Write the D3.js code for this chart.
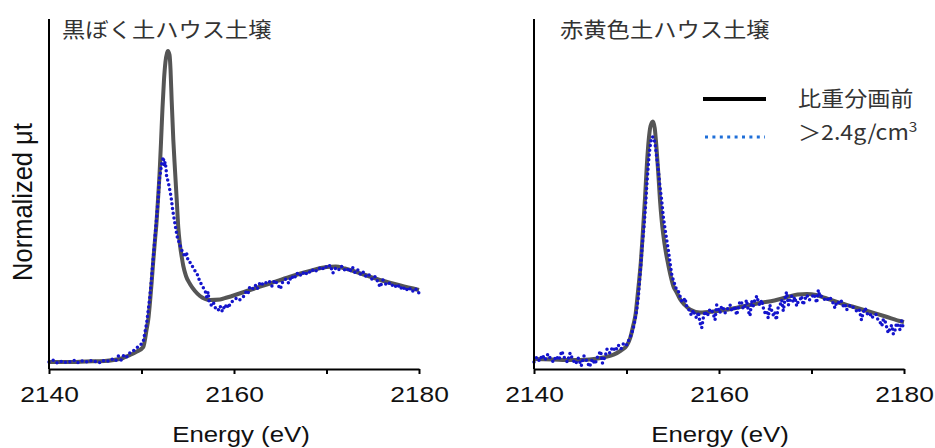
<!DOCTYPE html>
<html><head><meta charset="utf-8">
<script src="https://cdn.jsdelivr.net/npm/d3@7"></script>
<style>body{margin:0;background:#fff;} svg{display:block;}</style>
</head><body>
<svg id="c" width="935" height="448"></svg>
<script>
// ---------- data ----------
const xTicks = [2140, 2150, 2160, 2170, 2180];
const xTickLabels = ["2140", "", "2160", "", "2180"];
const panelTitles = ["黒ぼく土ハウス土壌", "赤黄色土ハウス土壌"];
const seriesNames = ["比重分画前", "＞2.4g/cm", "3"];
const xLabel = "Energy (eV)";
const yLabel = "Normalized μt";

// left panel, before fractionation (solid gray)
const leftBefore = [[2140,0.00],[2142,0.00],[2144,0.005],[2146,0.01],[2147,0.02],[2148,0.04],[2148.5,0.06],[2149,0.08],[2149.5,0.105],[2150.19,0.15],[2150.56,0.33],[2150.74,0.43],[2150.92,0.60],[2151.10,0.80],[2151.28,1.02],[2151.46,1.22],[2151.62,1.39],[2151.78,1.62],[2151.95,1.88],[2152.11,2.20],[2152.27,2.54],[2152.43,2.82],[2152.59,3.00],[2152.76,3.09],[2152.86,3.11],[2153.03,3.07],[2153.14,2.92],[2153.26,2.62],[2153.44,2.22],[2153.62,1.92],[2153.81,1.62],[2153.98,1.34],[2154.16,1.17],[2154.35,1.05],[2154.52,0.96],[2154.81,0.86],[2155.24,0.78],[2155.78,0.71],[2156.32,0.66],[2157.41,0.62],[2158.49,0.625],[2159.24,0.645],[2160.11,0.67],[2161.73,0.72],[2163.89,0.785],[2166,0.85],[2168,0.905],[2170,0.95],[2171,0.955],[2172,0.935],[2174,0.875],[2176,0.815],[2178,0.765],[2180,0.72]];

// left panel, >2.4 g/cm3 fraction (blue dotted)
const leftDense = [[2140.0,0.00],[2140.4,0.02],[2140.8,-0.01],[2141.2,0.01],[2141.6,-0.01],[2142.0,0.01],[2142.4,0.00],[2142.8,0.02],[2143.2,-0.01],[2143.6,0.01],[2144.0,0.00],[2144.4,0.02],[2144.8,0.00],[2145.2,0.01],[2145.6,-0.01],[2146.0,0.02],[2146.4,0.01],[2146.8,0.03],[2147.2,0.01],[2147.5,0.06],[2147.8,0.02],[2148.1,0.07],[2148.4,0.05],[2148.7,0.09],[2149.0,0.10],[2149.3,0.13],[2149.6,0.15],[2149.9,0.17],[2150.2,0.21],[2150.56,0.39],[2150.9,0.65],[2151.1,0.85],[2151.28,1.05],[2151.46,1.25],[2151.64,1.45],[2151.82,1.65],[2151.92,1.82],[2152.08,1.92],[2152.2,1.99],[2152.36,2.05],[2152.45,1.96],[2152.55,2.00],[2152.65,1.94],[2152.72,1.85],[2152.86,1.81],[2153.0,1.75],[2153.2,1.65],[2153.37,1.52],[2153.55,1.42],[2153.73,1.32],[2153.87,1.25],[2154.09,1.19],[2154.34,1.12],[2154.55,1.08],[2154.7,1.05],[2154.85,1.10],[2155.0,1.03],[2155.17,1.02],[2155.3,0.98],[2155.43,0.97],[2155.6,0.94],[2155.8,0.91],[2155.97,0.89],[2156.1,0.86],[2156.25,0.82],[2156.5,0.77],[2156.7,0.74],[2156.86,0.72],[2157.05,0.65],[2157.2,0.70],[2157.3,0.61],[2157.4,0.59],[2157.6,0.56],[2157.8,0.59],[2157.95,0.55],[2158.1,0.52],[2158.3,0.52],[2158.5,0.56],[2158.7,0.51],[2158.85,0.55],[2159.0,0.53],[2159.2,0.58],[2159.4,0.54],[2159.6,0.59],[2159.75,0.60],[2160.0,0.62],[2160.3,0.64],[2160.6,0.62],[2161.0,0.65],[2161.3,0.70],[2161.5,0.68],[2161.7,0.75],[2162.0,0.73],[2162.3,0.77],[2162.5,0.73],[2162.8,0.79],[2163.0,0.77],[2163.2,0.80],[2163.5,0.79],[2163.8,0.81],[2164.1,0.76],[2164.4,0.82],[2164.7,0.78],[2165.0,0.73],[2165.3,0.81],[2165.6,0.83],[2165.9,0.79],[2166.2,0.86],[2166.5,0.83],[2166.8,0.89],[2167.1,0.86],[2167.4,0.90],[2167.7,0.87],[2168.0,0.91],[2168.3,0.89],[2168.6,0.93],[2168.9,0.91],[2169.2,0.94],[2169.5,0.92],[2169.8,0.96],[2170.1,0.94],[2170.4,0.97],[2170.7,0.89],[2171.0,0.94],[2171.3,0.92],[2171.6,0.96],[2171.9,0.92],[2172.2,0.94],[2172.5,0.90],[2172.8,0.95],[2173.1,0.89],[2173.4,0.92],[2173.7,0.87],[2174.0,0.90],[2174.3,0.85],[2174.6,0.87],[2174.9,0.83],[2175.2,0.86],[2175.5,0.81],[2175.8,0.75],[2176.1,0.82],[2176.4,0.78],[2176.7,0.80],[2177.0,0.76],[2177.3,0.78],[2177.6,0.74],[2177.9,0.77],[2178.2,0.72],[2178.5,0.75],[2178.8,0.71],[2179.1,0.74],[2179.4,0.70],[2179.7,0.73],[2180.0,0.69]];

// right panel, before fractionation (solid gray)
const rightBefore = [[2140,0.03],[2142,0.025],[2144,0.02],[2146,0.025],[2147.5,0.045],[2148.6,0.073],[2149.4,0.115],[2150.0,0.16],[2150.4,0.24],[2150.74,0.37],[2151.0,0.49],[2151.15,0.62],[2151.35,0.80],[2151.55,1.00],[2151.75,1.27],[2152.0,1.64],[2152.2,1.97],[2152.4,2.22],[2152.6,2.36],[2152.85,2.405],[2153.05,2.34],[2153.26,2.12],[2153.45,1.87],[2153.62,1.62],[2153.8,1.42],[2153.98,1.27],[2154.25,1.10],[2154.52,0.97],[2154.8,0.85],[2155.06,0.76],[2155.4,0.70],[2155.78,0.63],[2156.3,0.57],[2156.86,0.525],[2157.95,0.495],[2159.4,0.505],[2161.0,0.525],[2162.5,0.555],[2164.4,0.59],[2166.0,0.615],[2167.2,0.645],[2168.5,0.675],[2169.5,0.68],[2170.5,0.67],[2171.5,0.64],[2172.6,0.605],[2174.4,0.555],[2176.2,0.505],[2178.0,0.455],[2179.75,0.405],[2180.0,0.40]];

// right panel, >2.4 g/cm3 fraction (blue dotted)
const rightDense = [[2140.0,0.00],[2140.3,0.05],[2140.6,0.01],[2140.9,0.07],[2141.2,0.02],[2141.5,0.08],[2141.8,0.03],[2142.1,0.00],[2142.4,0.06],[2142.7,0.02],[2143.0,0.11],[2143.3,0.04],[2143.6,0.00],[2143.9,0.09],[2144.2,0.02],[2144.5,-0.02],[2144.8,0.04],[2145.1,-0.04],[2145.4,0.06],[2145.7,0.01],[2146.0,-0.05],[2146.3,0.03],[2146.6,-0.02],[2146.9,0.06],[2147.2,0.11],[2147.4,-0.01],[2147.7,0.06],[2147.9,0.13],[2148.2,0.09],[2148.5,0.15],[2148.8,0.11],[2149.1,0.17],[2149.4,0.13],[2149.7,0.19],[2150.0,0.17],[2150.3,0.23],[2150.55,0.28],[2150.74,0.34],[2150.92,0.42],[2151.1,0.52],[2151.28,0.65],[2151.39,0.79],[2151.53,0.95],[2151.64,1.09],[2151.75,1.22],[2151.89,1.35],[2152.0,1.49],[2152.1,1.62],[2152.18,1.75],[2152.29,1.89],[2152.4,2.02],[2152.54,2.15],[2152.72,2.25],[2152.9,2.25],[2153.08,2.19],[2153.26,2.05],[2153.44,1.92],[2153.62,1.75],[2153.8,1.62],[2153.98,1.45],[2154.23,1.29],[2154.52,1.12],[2154.77,0.95],[2154.9,0.87],[2155.06,0.82],[2155.24,0.77],[2155.42,0.72],[2155.6,0.71],[2155.78,0.66],[2155.96,0.61],[2156.14,0.60],[2156.32,0.64],[2156.5,0.56],[2156.68,0.54],[2156.86,0.49],[2157.05,0.47],[2157.22,0.52],[2157.4,0.46],[2157.6,0.44],[2157.78,0.50],[2157.95,0.39],[2158.13,0.34],[2158.3,0.44],[2158.5,0.51],[2158.68,0.46],[2158.85,0.48],[2159.02,0.53],[2159.2,0.52],[2159.38,0.48],[2159.57,0.42],[2159.75,0.57],[2159.92,0.53],[2160.1,0.49],[2160.28,0.56],[2160.47,0.54],[2160.65,0.49],[2160.83,0.51],[2161.0,0.55],[2161.2,0.57],[2161.38,0.51],[2161.55,0.52],[2161.72,0.56],[2161.9,0.47],[2162.1,0.54],[2162.27,0.61],[2162.45,0.59],[2162.62,0.53],[2162.8,0.56],[2162.98,0.62],[2163.17,0.51],[2163.35,0.46],[2163.53,0.61],[2163.7,0.56],[2163.9,0.63],[2164.1,0.66],[2164.27,0.59],[2164.43,0.57],[2164.62,0.62],[2164.8,0.54],[2164.98,0.49],[2165.15,0.51],[2165.32,0.44],[2165.5,0.57],[2165.68,0.52],[2165.87,0.47],[2166.03,0.50],[2166.2,0.42],[2166.4,0.55],[2166.6,0.57],[2166.78,0.62],[2166.95,0.51],[2167.15,0.64],[2167.3,0.70],[2167.5,0.57],[2167.68,0.62],[2167.85,0.66],[2168.02,0.60],[2168.2,0.65],[2168.4,0.56],[2168.58,0.61],[2168.75,0.62],[2168.92,0.66],[2169.1,0.57],[2169.3,0.63],[2169.5,0.67],[2169.75,0.62],[2170.0,0.64],[2170.28,0.68],[2170.56,0.59],[2170.74,0.72],[2170.92,0.65],[2171.1,0.66],[2171.37,0.63],[2171.64,0.61],[2171.92,0.65],[2172.2,0.62],[2172.37,0.58],[2172.54,0.54],[2172.72,0.60],[2172.9,0.59],[2173.17,0.62],[2173.44,0.56],[2173.62,0.58],[2173.8,0.52],[2174.08,0.56],[2174.35,0.57],[2174.62,0.53],[2174.9,0.51],[2175.15,0.53],[2175.4,0.42],[2175.6,0.50],[2175.8,0.54],[2176.05,0.48],[2176.3,0.49],[2176.5,0.44],[2176.7,0.46],[2176.95,0.48],[2177.2,0.42],[2177.4,0.40],[2177.6,0.36],[2177.78,0.43],[2177.95,0.41],[2178.12,0.35],[2178.3,0.29],[2178.5,0.34],[2178.67,0.37],[2178.85,0.28],[2179.0,0.31],[2179.2,0.39],[2179.4,0.36],[2179.57,0.32],[2179.75,0.41],[2179.9,0.35]];

// ---------- drawing ----------
const LATIN = "'Liberation Sans', Arial, sans-serif";
const CJK = "'Noto Sans CJK JP', 'Noto Sans', sans-serif";
const GRAY = "#555555", BLUE = "#1414cc", LEGBLUE = "#1f6fd8";

const svg = d3.select("#c");
const y = d3.scaleLinear().domain([-0.07, 3.43]).range([369, 19]);

const panels = [
  {x0: 49, x1: 419, title: panelTitles[0], before: leftBefore, dense: leftDense, titleX: 62, labelX: 241},
  {x0: 534, x1: 904, title: panelTitles[1], before: rightBefore, dense: rightDense, titleX: 560, labelX: 720}
];

panels.forEach((p, pi) => {
  const x = d3.scaleLinear().domain([2140, 2180]).range([p.x0, p.x1]);
  const g = svg.append("g");

  const smooth = d3.line().x(d => x(d[0])).y(d => y(d[1])).curve(d3.curveMonotoneX);
  const jag = d3.line().x(d => x(d[0])).y(d => y(d[1])).curve(d3.curveLinear);

  g.append("path").datum(p.before).attr("d", smooth)
    .attr("fill", "none").attr("stroke", GRAY).attr("stroke-width", 4)
    .attr("stroke-linejoin", "round");

  g.append("path").datum(p.dense).attr("d", jag)
    .attr("fill", "none").attr("stroke", BLUE).attr("stroke-width", 3.5)
    .attr("stroke-linecap", "round").attr("stroke-dasharray", "0 4.8");

  // y axis line
  g.append("line").attr("x1", x(2140)).attr("x2", x(2140)).attr("y1", y.range()[1]).attr("y2", y.range()[0])
    .attr("stroke", "#000").attr("stroke-width", 2);

  // x axis
  const ax = g.append("g").attr("transform", `translate(0,${y.range()[0]})`)
    .call(d3.axisBottom(x).tickValues(xTicks).tickSize(5).tickSizeOuter(0)
      .tickFormat((d, i) => xTickLabels[i]));
  ax.select(".domain").attr("stroke", "#000").attr("stroke-width", 2);
  ax.selectAll(".tick line").attr("stroke", "#000").attr("stroke-width", 2);
  ax.selectAll(".tick text").attr("y", 33).attr("dy", 0)
    .attr("transform", "scale(1.2,1)")
    .style("font-family", LATIN).style("font-size", "22px").attr("fill", "#111");

  // title
  g.append("text").attr("transform", `translate(${p.titleX},37) scale(1.11,1)`)
    .style("font-family", CJK).style("font-size", "21px").attr("fill", "#333")
    .text(p.title);

  // x label
  g.append("text").attr("transform", `translate(${p.labelX},442) scale(1.2,1)`)
    .attr("text-anchor", "middle")
    .style("font-family", LATIN).style("font-size", "21.5px").attr("fill", "#111")
    .text(xLabel);

  if (pi === 0) {
    g.append("text").attr("transform", "translate(32,202) scale(1.1,1) rotate(-90)")
      .attr("text-anchor", "middle")
      .style("font-family", LATIN).style("font-size", "25.5px").attr("fill", "#111")
      .text(yLabel);
  }

  if (pi === 1) {
    const lg = g.append("g");
    lg.append("line").attr("x1", 703).attr("x2", 766).attr("y1", 99).attr("y2", 99)
      .attr("stroke", "#000").attr("stroke-width", 4);
    lg.append("line").attr("x1", 705).attr("x2", 765).attr("y1", 137).attr("y2", 137)
      .attr("stroke", LEGBLUE).attr("stroke-width", 3).attr("stroke-dasharray", "3 4.4");
    lg.append("text").attr("transform", "translate(798,106) scale(1.1,1)")
      .style("font-family", CJK).style("font-size", "21px").attr("fill", "#333")
      .text(seriesNames[0]);
    const t2 = lg.append("text").attr("transform", "translate(798,140) scale(1.1,1)")
      .style("font-family", CJK).style("font-size", "21px").attr("fill", "#333");
    t2.append("tspan").text(seriesNames[1]);
    t2.append("tspan").attr("dy", -8).style("font-size", "14px").text(seriesNames[2]);
  }
});
</script>
</body></html>
